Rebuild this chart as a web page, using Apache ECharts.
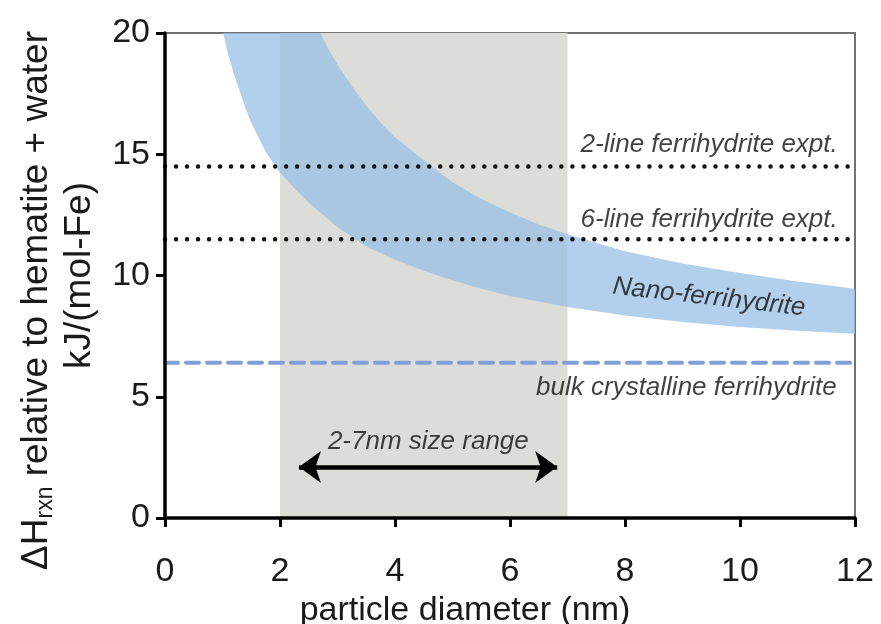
<!DOCTYPE html>
<html>
<head>
<meta charset="utf-8">
<script src="https://cdn.jsdelivr.net/npm/echarts@6/dist/echarts.min.js"></script>
<style>html,body{margin:0;padding:0;background:#fff}#c{width:881px;height:624px}</style>
</head>
<body>
<div id="c"></div>
<script>
// ---- data ----
var xTicks = [0, 2, 4, 6, 8, 10, 12];
var yTicks = [0, 5, 10, 15, 20];
var sizeRange = [2, 7];
var lowerX = [1.01, 1.1, 1.2, 1.3, 1.4, 1.5, 1.75, 2.0, 2.25, 2.5, 2.75, 3.0, 3.5, 4.0, 4.5, 5.0, 5.5, 6.0, 7.0, 8.0, 9.0, 10.0, 11.0, 12.0];
var lowerY = [20.0, 19.1, 18.3, 17.6, 16.9, 16.3, 15.1, 14.25, 13.6, 13.0, 12.5, 12.0, 11.2, 10.65, 10.2, 9.8, 9.45, 9.15, 8.7, 8.35, 8.08, 7.88, 7.72, 7.6];
var upperX = [2.7, 2.85, 3.0, 3.25, 3.5, 3.75, 4.0, 4.5, 5.0, 5.5, 6.0, 6.5, 7.0, 7.5, 8.0, 9.0, 10.0, 11.0, 12.0];
var upperY = [20.0, 19.3, 18.7, 17.8, 17.0, 16.3, 15.7, 14.75, 13.85, 13.15, 12.6, 12.1, 11.7, 11.35, 11.0, 10.5, 10.1, 9.75, 9.45];
var twoLineExpt = 14.5;
var sixLineExpt = 11.5;
var bulkValue = 6.4;
var lineXRange = [0, 12];
var arrowX = [2.33, 6.82];
var arrowY = 2.1;
var labels = [
  {x: 11.7, y: 15.38, text: '2-line ferrihydrite expt.'},
  {x: 11.7, y: 12.29, text: '6-line ferrihydrite expt.'},
  {x: 9.46, y: 9.1, text: 'Nano-ferrihydrite'},
  {x: 11.68, y: 5.36, text: 'bulk crystalline ferrihydrite'},
  {x: 4.58, y: 3.13, text: '2-7nm size range'}
];

var FONT = '"Liberation Sans", Arial, Helvetica, sans-serif';
var chart = echarts.init(document.getElementById('c'), null, {renderer: 'canvas'});

function hline(y, color, width, type, cap) {
  return {
    type: 'line', silent: true, symbol: 'none', z: 4,
    data: [[lineXRange[0], y], [lineXRange[1], y]],
    lineStyle: {color: color, width: width, type: type, cap: cap}
  };
}

var labelStyles = [
  {align: 'right', rotate: 0},
  {align: 'right', rotate: 0},
  {align: 'center', rotate: -6.5},
  {align: 'right', rotate: 0},
  {align: 'center', rotate: 0}
];

var option = {
  animation: false,
  backgroundColor: '#fff',
  grid: {left: 165, right: 26, top: 33, bottom: 106, show: true, borderColor: '#444', borderWidth: 1.5,
         backgroundColor: 'transparent', containLabel: false, outerBoundsMode: 'none'},
  xAxis: {
    type: 'value', min: 0, max: 12, interval: 2, z: 10,
    name: 'particle diameter (nm)', nameLocation: 'middle', nameGap: 59,
    nameTextStyle: {fontFamily: FONT, fontSize: 34, color: '#1a1a1a', padding: [0, 90, 0, 0]},
    axisLine: {show: true, lineStyle: {color: '#000', width: 3.5}},
    axisTick: {show: true, length: 9, lineStyle: {color: '#000', width: 3}},
    axisLabel: {fontFamily: FONT, fontSize: 34, color: '#1a1a1a', margin: 37},
    splitLine: {show: false}
  },
  yAxis: {
    type: 'value', min: 0, max: 20, interval: 5, z: 10,
    name: '{a|\u0394H}{sub|rxn}{c| relative to hematite + water}\n{a|kJ/(mol-Fe)}',
    nameLocation: 'middle', nameGap: 64, nameRotate: 90,
    nameTextStyle: {
      fontFamily: FONT, fontSize: 37, color: '#1a1a1a', align: 'center',
      rich: {
        a: {fontFamily: FONT, fontSize: 37, color: '#1a1a1a', lineHeight: 43},
        c: {fontFamily: FONT, fontSize: 37, color: '#1a1a1a', lineHeight: 43, padding: [0, 50, 0, 0]},
        sub: {fontFamily: FONT, fontSize: 23, color: '#1a1a1a', lineHeight: 43, padding: [19, 0, 0, 0]}
      }
    },
    axisLine: {show: true, lineStyle: {color: '#000', width: 3.5}},
    axisTick: {show: true, length: 9, lineStyle: {color: '#000', width: 3}},
    axisLabel: {fontFamily: FONT, fontSize: 34, color: '#1a1a1a', margin: 15},
    splitLine: {show: false}
  },
  series: [
    {
      type: 'line', silent: true, symbol: 'none', data: [], z: 1,
      markArea: {
        silent: true,
        itemStyle: {color: '#dcdcd8'},
        data: [[{xAxis: sizeRange[0], yAxis: 0}, {xAxis: sizeRange[1], yAxis: 20}]]
      }
    },
    {
      type: 'custom', silent: true, z: 2, clip: true,
      data: [0],
      renderItem: function (params, api) {
        var pts = [];
        for (var i = 0; i < lowerX.length; i++) pts.push(api.coord([lowerX[i], lowerY[i]]));
        for (var j = upperX.length - 1; j >= 0; j--) pts.push(api.coord([upperX[j], upperY[j]]));
        return {type: 'polygon', shape: {points: pts, smooth: 0}, style: {fill: 'rgba(155,192,229,0.77)'}};
      }
    },
    hline(twoLineExpt, '#111', 4.5, [0.01, 11], 'round'),
    hline(sixLineExpt, '#111', 4.5, [0.01, 11], 'round'),
    hline(bulkValue, '#7f9fd6', 4, [13, 8], 'round'),
    {
      type: 'line', silent: true, symbol: 'none', z: 5, data: [],
      markLine: {
        silent: true, symbol: ['arrow', 'arrow'], symbolSize: [24, 22],
        lineStyle: {color: '#000', width: 4.5, type: 'solid'},
        label: {show: false},
        data: [[{coord: [arrowX[0], arrowY]}, {coord: [arrowX[1], arrowY]}]]
      }
    },
    {
      type: 'scatter', silent: true, z: 6, symbolSize: 1,
      itemStyle: {color: 'rgba(0,0,0,0)'},
      data: labels.map(function (l, i) {
        return {
          value: [l.x, l.y], name: l.text,
          label: {
            show: true, position: 'inside', formatter: l.text,
            align: labelStyles[i].align, verticalAlign: 'middle', rotate: labelStyles[i].rotate,
            fontFamily: FONT, fontSize: 26, fontStyle: 'italic', color: '#111'
          }
        };
      })
    }
  ]
};
chart.setOption(option);
</script>
</body>
</html>
